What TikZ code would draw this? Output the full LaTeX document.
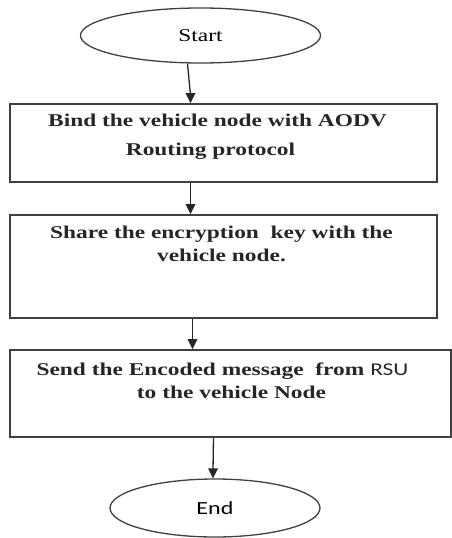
\documentclass[tikz,border=0pt]{standalone}
\usepackage{fontspec}
\setmainfont{Liberation Serif}[FakeStretch=1.3]
\newfontfamily\calibrifont{Carlito}[FakeStretch=1.3]
\usetikzlibrary{shapes.geometric,positioning}

\tikzset{
  terminal/.style={ellipse, draw=black!75, line width=1.3pt, inner sep=0pt},
  stepbox/.style={draw=black!75, line width=1.6pt, inner sep=0pt},
  steptext/.style={align=center, inner sep=0pt, text=black!85,
    font=\bfseries\fontsize{18pt}{23pt}\selectfont},
  link/.style={draw=black!85, line width=1.3pt},
  tiphead/.style={fill=black!85}
}

\begin{document}
\begin{tikzpicture}[x=1pt,y=1pt]
  \useasboundingbox (0,0) rectangle (452,-538);
  % Terminals
  \node[terminal, minimum width=240pt, minimum height=55pt,
        font=\fontsize{18pt}{20pt}\selectfont] (start) at (200.5,-35.5) {Start};
  \node[terminal, minimum width=210pt, minimum height=58pt,
        font=\calibrifont\fontsize{18.5pt}{20pt}\selectfont] (end) at (215,-508) {End};
  % Process boxes
  \node[stepbox, minimum width=427pt, minimum height=78pt] (bind) at (223.5,-143) {};
  \node[stepbox, minimum width=427pt, minimum height=103pt] (share) at (223.5,-266.5) {};
  \node[stepbox, minimum width=441pt, minimum height=87pt] (send) at (230.5,-393.5) {};
  % Box texts
  \node[steptext, below=11pt of bind.north, xshift=-6pt] (bindtxt)
    {Bind the vehicle node with AODV\\[6pt]\hspace*{-14pt}Routing protocol};
  \node[steptext, below=12pt of share.north, xshift=-2pt] (sharetxt)
    {Share the encryption\ \ key\ with\ the\\vehicle node.};
  \node[steptext, below=13pt of send.north, xshift=-8pt] (sendtxt)
    {Send the Encoded message\ \ from {\calibrifont\mdseries RSU}\\\hspace*{18pt}to the vehicle\ Node};
  % Arrow ends on the box tops
  \coordinate (tip1) at ([xshift=-33pt]bind.north);
  \coordinate (tip2) at ([xshift=-33pt]share.north);
  \coordinate (tip3) at ([xshift=-38pt]send.north);
  \coordinate (tip4) at ([xshift=-2pt]end.north);
  % Connectors
  \draw[link] ([xshift=-13pt]start.south) -- ([yshift=8pt]tip1);
  \draw[link] ([xshift=-33pt]bind.south) -- ([yshift=8pt]tip2);
  \draw[link] ([xshift=-31pt]share.south) -- ([yshift=8pt]tip3);
  \draw[link] ([xshift=-17pt]send.south) -- ([yshift=8pt]tip4);
  % Arrow heads
  \foreach \t in {tip1,tip2,tip3,tip4}
    \fill[tiphead] (\t) -- ++(-5,10) -- ++(10,0) -- cycle;
\end{tikzpicture}
\end{document}
